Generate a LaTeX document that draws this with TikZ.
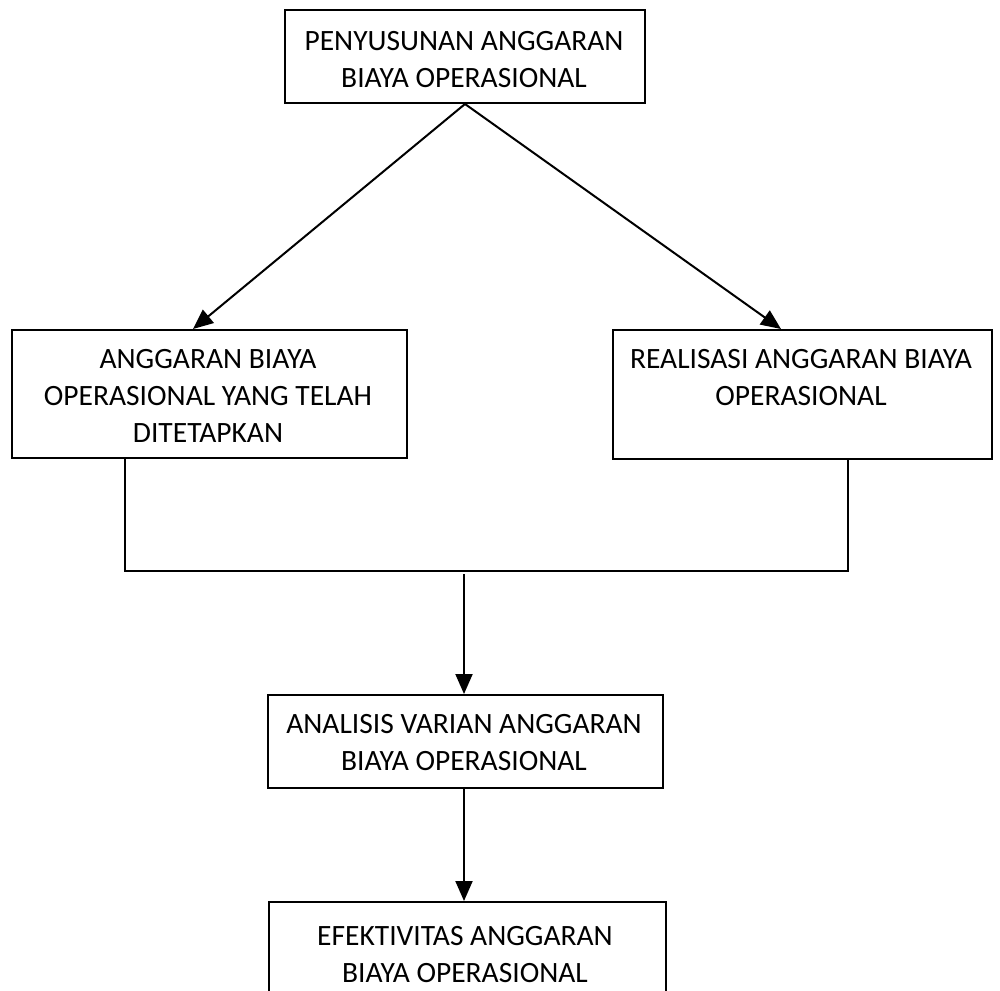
\documentclass[tikz,border=0pt]{standalone}
\usepackage{fontspec}
\setmainfont{Carlito}
\usetikzlibrary{arrows.meta}
\begin{document}
\begin{tikzpicture}[x=1pt,y=-1pt,
  box/.style={draw,line width=2pt,inner sep=0pt,anchor=north west},
  lbl/.style={font=\fontsize{29.5}{37}\selectfont,align=center,inner sep=0pt},
  conn/.style={line width=2pt},
  arr/.style={line width=2pt,-{Triangle[length=20pt,width=17pt]}}]
\useasboundingbox (0,0) rectangle (1000,990);
\clip (0,0) rectangle (1000,990);
% boxes
\node[box,minimum width=360pt,minimum height=93pt] (top) at (284,9) {};
\node[box,minimum width=395pt,minimum height=128pt] (lb) at (11,329) {};
\node[box,minimum width=379pt,minimum height=129pt] (rb) at (612,329) {};
\node[box,minimum width=395pt,minimum height=93pt] (an) at (267,694) {};
\node[box,minimum width=397pt,minimum height=110pt] (ef) at (268,901) {};
% labels
\node[lbl] (ttop) at (464,60) {PENYUSUNAN ANGGARAN\\BIAYA OPERASIONAL};
\node[lbl] (tlb) at (208,396) {ANGGARAN BIAYA\\OPERASIONAL YANG TELAH\\DITETAPKAN};
\node[lbl] (trb) at (801,378) {REALISASI ANGGARAN BIAYA\\OPERASIONAL};
\node[lbl] (tan) at (464,743) {ANALISIS VARIAN ANGGARAN\\BIAYA OPERASIONAL};
\node[lbl] (tef) at (465,955) {EFEKTIVITAS ANGGARAN\\BIAYA OPERASIONAL};
% connector points
\coordinate (lt) at (193,329);
\coordinate (rt) at (781,329);
\coordinate (bl) at (125,457);
\coordinate (br) at (848,458);
\coordinate (jl) at (125,571);
\coordinate (jr) at (848,571);
\coordinate (jm) at (464,574);
\coordinate (am) at (464,787);
% connectors
\draw[arr] (top.south) -- (lt);
\draw[arr] (top.south) -- (rt);
\draw[conn] (bl) -- (jl) -- (jr) -- (br);
\draw[arr] (jm) -- (jm |- an.north);
\draw[arr] (am) -- (am |- ef.north);
\end{tikzpicture}
\end{document}
